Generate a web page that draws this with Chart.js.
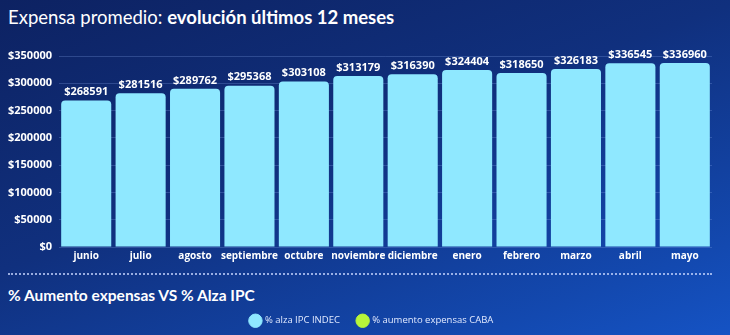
<!DOCTYPE html>
<html>
<head>
<meta charset="utf-8">
<script src="https://cdn.jsdelivr.net/npm/chart.js@4"></script>
<style>
  html, body { margin: 0; padding: 0; }
  body {
    width: 730px; height: 335px; overflow: hidden; position: relative;
    background: linear-gradient(160deg, #0d2262 0%, #10307e 45%, #1349b0 85%, #1553c4 100%);
    font-family: "Open Sans", "Noto Sans", sans-serif; color: #fff;
  }
  #titulo { position: absolute; left: 8px; top: 6px; font-family: Lato, sans-serif; font-size: 18.5px; white-space: nowrap; }
  #titulo b { font-weight: 700; }
  #chartBox { position: absolute; left: 0; top: 40px; width: 712px; height: 228px; }
  #sep { position: absolute; left: 8px; top: 273px; width: 704px; border-top: 2px dotted rgba(200,215,255,0.75); }
  #subtitulo { position: absolute; left: 8px; top: 286px; font-family: Lato, sans-serif; font-size: 15.5px; font-weight: 700; white-space: nowrap; }
  #legendBox { position: absolute; left: 0; top: 298px; width: 744px; height: 100px; }
</style>
</head>
<body>
<div id="titulo">Expensa promedio: <b>evolución últimos 12 meses</b></div>
<div id="chartBox"><canvas id="barChart"></canvas></div>
<div id="sep"></div>
<div id="subtitulo">% Aumento expensas VS % Alza IPC</div>
<div id="legendBox"><canvas id="legendChart"></canvas></div>
<script>
// datos
const meses = ["junio", "julio", "agosto", "septiembre", "octubre", "noviembre", "diciembre", "enero", "febrero", "marzo", "abril", "mayo"];
const expensas = [268591, 281516, 289762, 295368, 303108, 313179, 316390, 324404, 318650, 326183, 336545, 336960];
const seriesComparacion = ["% alza IPC INDEC", "% aumento expensas CABA"];

const FONT = '"Open Sans", "Noto Sans", sans-serif';

// etiquetas de valor arriba de cada barra
const valueLabels = {
    id: 'valueLabels',
    afterDatasetsDraw(chart) {
        const ctx = chart.ctx;
        const meta = chart.getDatasetMeta(0);
        ctx.save();
        ctx.font = 'bold 11px ' + FONT;
        ctx.fillStyle = '#ffffff';
        ctx.textAlign = 'center';
        ctx.textBaseline = 'bottom';
        meta.data.forEach((bar, i) => {
            ctx.fillText('$' + chart.data.datasets[0].data[i], bar.x, bar.y - 3);
        });
        ctx.restore();
    }
};

new Chart(document.getElementById('barChart'), {
    type: 'bar',
    data: {
        labels: meses,
        datasets: [{
            data: expensas,
            backgroundColor: '#8fe8ff',
            borderRadius: { topLeft: 4, topRight: 4 },
            borderSkipped: 'bottom',
            barPercentage: 0.92,
            categoryPercentage: 1
        }]
    },
    options: {
        responsive: true,
        maintainAspectRatio: false,
        animation: false,
        layout: { padding: { top: 16, right: 0, left: 0, bottom: 0 } },
        plugins: { legend: { display: false }, tooltip: { enabled: false } },
        scales: {
            x: {
                grid: { display: false, drawTicks: false },
                border: { display: false },
                ticks: { color: '#ffffff', font: { family: FONT, size: 10, weight: 'bold' }, padding: 3, maxRotation: 0, autoSkip: false },
                afterFit: s => { s.height = 21; }
            },
            y: {
                min: 0, max: 350000,
                grid: { color: 'rgba(130,160,230,0.28)', drawTicks: false },
                border: { display: false },
                ticks: {
                    stepSize: 50000,
                    color: '#ffffff',
                    padding: 7,
                    font: { family: FONT, size: 11, weight: 'bold' },
                    callback: v => '$' + v
                },
                afterFit: s => { s.width = 59; }
            }
        }
    },
    plugins: [valueLabels]
});

// segundo gráfico: solo se ve la leyenda
new Chart(document.getElementById('legendChart'), {
    type: 'line',
    data: {
        labels: meses,
        datasets: [
            { label: seriesComparacion[0], data: [], backgroundColor: '#8fe8ff', borderColor: '#8fe8ff' },
            { label: seriesComparacion[1], data: [], backgroundColor: '#b8f53a', borderColor: '#b8f53a' }
        ]
    },
    options: {
        responsive: true,
        maintainAspectRatio: false,
        animation: false,
        layout: { padding: 0 },
        scales: { x: { display: false }, y: { display: false } },
        plugins: {
            tooltip: { enabled: false },
            legend: {
                position: 'top',
                labels: {
                    usePointStyle: true,
                    pointStyle: 'circle',
                    boxWidth: 10, boxHeight: 10,
                    padding: 18,
                    color: '#e2eaff',
                    font: { family: FONT, size: 9.5 }
                }
            }
        }
    }
});
</script>
</body>
</html>
